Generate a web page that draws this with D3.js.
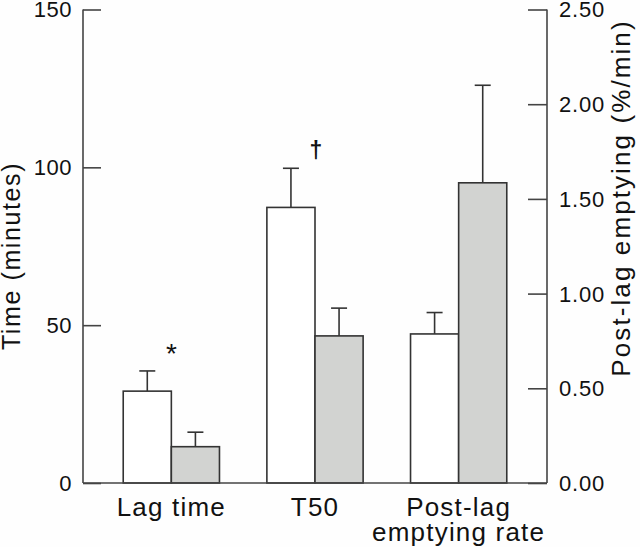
<!DOCTYPE html>
<html>
<head>
<meta charset="utf-8">
<script src="https://cdn.jsdelivr.net/npm/d3@7"></script>
<style>
  body { margin: 0; background: #fefefe; }
  svg { display: block; font-family: "Liberation Sans", Arial, sans-serif; }
</style>
</head>
<body>
<div id="chart"></div>
<script>
// data
var categories = ["Lag time", "T50", "Post-lag emptying rate"];
var series = ["control", "treated"];
// Lag time and T50 on left axis (minutes); post-lag rate on right axis (%/min)
var meanWhite = [29.1, 87.3, 0.787];
var seWhite   = [6.4, 12.4, 0.113];
var meanGray  = [11.5, 46.6, 1.585];
var seGray    = [4.6, 8.8, 0.515];
var axisFor   = ["left", "left", "right"];
var leftTicks  = [0, 50, 100, 150];
var rightTicks = [0, 0.5, 1, 1.5, 2, 2.5];
var marks = [{cat: "Lag time", text: "*"}, {cat: "T50", text: "\u2020"}];

var width = 640, height = 547;
var plot = {left: 83, right: 547, top: 9.5, bottom: 483};

var svg = d3.select("#chart").append("svg")
    .attr("width", width)
    .attr("height", height);

var x = d3.scaleBand()
    .domain(categories)
    .range([plot.left, plot.right])
    .paddingInner(0.33)
    .paddingOuter(0.28);
var xs = d3.scaleBand().domain(series).range([0, x.bandwidth()]);

var yL = d3.scaleLinear().domain([0, 150]).range([plot.bottom, plot.top]);
var yR = d3.scaleLinear().domain([0, 2.5]).range([plot.bottom, plot.top]);

var rows = [];
categories.forEach(function(c, i) {
  var y = axisFor[i] == "left" ? yL : yR;
  rows.push({cat: c, s: "control", v: meanWhite[i], e: seWhite[i], y: y, fill: "#ffffff"});
  rows.push({cat: c, s: "treated", v: meanGray[i], e: seGray[i], y: y, fill: "#d2d3d1"});
});

// error bars (upper only)
var eb = svg.append("g").attr("stroke", "#333").attr("stroke-width", 1.6);
rows.forEach(function(d) {
  var cx = x(d.cat) + xs(d.s) + xs.bandwidth() / 2;
  eb.append("line").attr("x1", cx).attr("x2", cx)
    .attr("y1", d.y(d.v)).attr("y2", d.y(d.v + d.e));
  eb.append("line").attr("x1", cx - 8).attr("x2", cx + 8)
    .attr("y1", d.y(d.v + d.e)).attr("y2", d.y(d.v + d.e));
});

// bars
svg.append("g").selectAll("rect")
  .data(rows)
  .enter().append("rect")
    .attr("x", function(d) { return x(d.cat) + xs(d.s); })
    .attr("width", xs.bandwidth())
    .attr("y", function(d) { return d.y(d.v); })
    .attr("height", function(d) { return plot.bottom - d.y(d.v); })
    .attr("fill", function(d) { return d.fill; })
    .attr("stroke", "#333")
    .attr("stroke-width", 1.6);

// left axis
svg.append("g")
    .attr("transform", "translate(" + plot.left + ",0)")
    .call(d3.axisRight(yL).tickValues(leftTicks).tickSize(18).tickFormat(""))
    .call(function(g) {
      g.selectAll("line, path").attr("stroke", "#444").attr("stroke-width", 1.6);
      g.select(".domain").attr("d", "M0," + plot.top + "V" + plot.bottom);
    });
svg.append("g").selectAll("text")
  .data(leftTicks)
  .enter().append("text")
    .attr("x", 72)
    .attr("y", function(d) { return yL(d); })
    .attr("dy", "0.36em")
    .attr("text-anchor", "end")
    .attr("font-size", 22)
    .attr("letter-spacing", 0.5)
    .attr("fill", "#111")
    .text(function(d) { return d; });

// right axis
svg.append("g")
    .attr("transform", "translate(" + plot.right + ",0)")
    .call(d3.axisLeft(yR).tickValues(rightTicks).tickSize(19).tickFormat(""))
    .call(function(g) {
      g.selectAll("line, path").attr("stroke", "#444").attr("stroke-width", 1.6);
      g.select(".domain").attr("d", "M0," + plot.top + "V" + plot.bottom);
    });
svg.append("g").selectAll("text")
  .data(rightTicks)
  .enter().append("text")
    .attr("x", 559)
    .attr("y", function(d) { return yR(d); })
    .attr("dy", "0.36em")
    .attr("font-size", 22)
    .attr("letter-spacing", 0.8)
    .attr("fill", "#111")
    .text(d3.format(".2f"));

// baseline
svg.append("line")
    .attr("x1", plot.left).attr("x2", plot.right)
    .attr("y1", plot.bottom).attr("y2", plot.bottom)
    .attr("stroke", "#444").attr("stroke-width", 1.6);

// category labels
var lab = svg.append("g").attr("font-size", 26).attr("letter-spacing", 1.2)
    .attr("fill", "#111").attr("text-anchor", "middle");
lab.append("text").attr("x", x("Lag time") + x.bandwidth() / 2).attr("y", 516).text("Lag time");
lab.append("text").attr("x", x("T50") + x.bandwidth() / 2).attr("y", 516).text("T50");
lab.append("text").attr("x", x("Post-lag emptying rate") + x.bandwidth() / 2).attr("y", 516).text("Post-lag");
lab.append("text").attr("x", x("Post-lag emptying rate") + x.bandwidth() / 2).attr("y", 541).text("emptying rate");

// axis titles
svg.append("text")
    .attr("transform", "translate(20,256) rotate(-90)")
    .attr("text-anchor", "middle")
    .attr("font-size", 25)
    .attr("letter-spacing", 1.6)
    .attr("fill", "#111")
    .text("Time (minutes)");
svg.append("text")
    .attr("transform", "translate(630,198) rotate(-90)")
    .attr("text-anchor", "middle")
    .attr("font-size", 26)
    .attr("letter-spacing", 2.1)
    .attr("fill", "#111")
    .text("Post-lag emptying (%/min)");

// significance marks
svg.append("g").selectAll("text")
  .data(marks)
  .enter().append("text")
    .attr("x", function(d) { return x(d.cat) + x.bandwidth() / 2 + (d.text == "*" ? 0 : 1); })
    .attr("y", function(d) { return d.text == "*" ? 363 : 158; })
    .attr("text-anchor", "middle")
    .attr("font-size", function(d) { return d.text == "*" ? 28 : 23; })
    .attr("font-weight", function(d) { return d.text == "*" ? "normal" : "bold"; })
    .attr("fill", "#111")
    .text(function(d) { return d.text; });
</script>
</body>
</html>
